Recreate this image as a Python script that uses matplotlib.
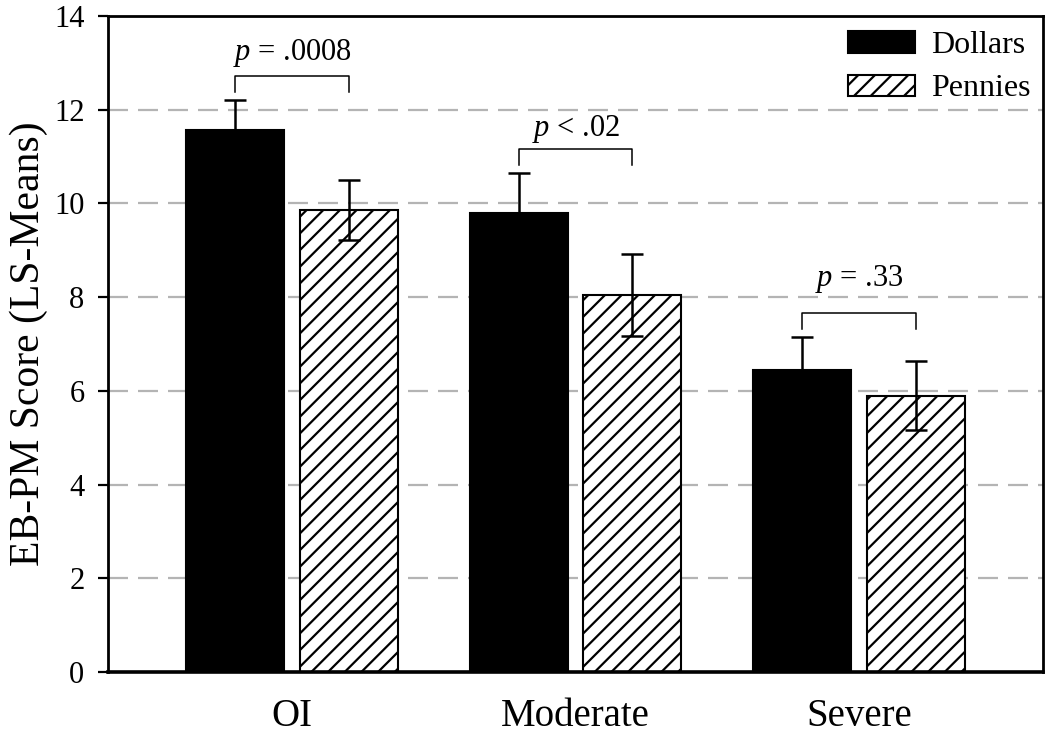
import numpy as np
import matplotlib
matplotlib.use("Agg")
import matplotlib.pyplot as plt
from matplotlib.patches import Patch

# ---- data ----
categories = ['OI', 'Moderate', 'Severe']
dollars = [11.56, 9.79, 6.44]
dollars_err = [0.65, 0.87, 0.72]
pennies = [9.87, 8.05, 5.90]
pennies_err = [0.64, 0.87, 0.73]
p_labels = ['= .0008', '< .02', '= .33']
series_names = ['Dollars', 'Pennies']
y_ticks = [0, 2, 4, 6, 8, 10, 12, 14]

# ---- style ----
plt.rcParams['font.family'] = ['Liberation Serif', 'DejaVu Serif']
plt.rcParams['mathtext.fontset'] = 'custom'
plt.rcParams['mathtext.rm'] = 'Liberation Serif'
plt.rcParams['mathtext.it'] = 'Liberation Serif:italic'
plt.rcParams['hatch.linewidth'] = 1.6

fig = plt.figure(figsize=(10.5, 7.36), dpi=100)
ax = fig.add_axes([108/1050, 1 - 672/736, (1043-108)/1050, (672-16)/736])

x = np.arange(len(categories))
w = 0.346
off = 0.201

for y in y_ticks[1:-1]:
    ax.axhline(y, color='#b4b4b4', lw=1.6, dashes=(9, 4.5), zorder=0)

ax.bar(x - off, dollars, w, color='black', edgecolor='black', lw=1.5, zorder=2)
ax.bar(x + off, pennies, w, color='white', edgecolor='black', lw=1.5,
       hatch='//', zorder=2)
ax.errorbar(x - off, dollars, yerr=dollars_err, fmt='none', ecolor='black',
            elinewidth=1.8, capsize=8, capthick=1.8, zorder=3)
ax.errorbar(x + off, pennies, yerr=pennies_err, fmt='none', ecolor='black',
            elinewidth=1.8, capsize=8, capthick=1.8, zorder=3)

# significance brackets
text_gap = [0.36, 0.27, 0.57]
for i in range(len(categories)):
    top = max(dollars[i] + dollars_err[i], 0) + 0.5
    leg = 0.33
    ax.plot([x[i] - off, x[i] - off, x[i] + off, x[i] + off],
            [top - leg, top, top, top - leg], color='black', lw=1.1, zorder=3)
    ax.text(x[i], top + text_gap[i], r'$p$ ' + p_labels[i], ha='center',
            va='baseline', fontsize=22)

ax.set_xlim(-0.65, 2.65)
ax.set_ylim(0, 14)
ax.set_yticks(y_ticks)
ax.set_xticks(x)
ax.set_xticklabels(categories, fontsize=28)
ax.tick_params(axis='x', length=0, pad=19)
ax.tick_params(axis='y', direction='out', length=7, width=1.6, labelsize=22, pad=10)
for s in ax.spines.values():
    s.set_linewidth(2.0)
ax.spines['bottom'].set_linewidth(2.6)
ax.set_ylabel('EB-PM Score (LS-Means)', fontsize=30, labelpad=4)

handles = [Patch(facecolor='black', edgecolor='black', lw=1.5),
           Patch(facecolor='white', edgecolor='black', lw=1.5, hatch='//')]
ax.legend(handles, series_names, loc='upper right', bbox_to_anchor=(0.987, 0.977),
          frameon=False, fontsize=23, handlelength=2.1, handleheight=0.65,
          handletextpad=0.5, labelspacing=0.45, borderpad=0, borderaxespad=0)

fig.savefig('out.png', dpi=100)
